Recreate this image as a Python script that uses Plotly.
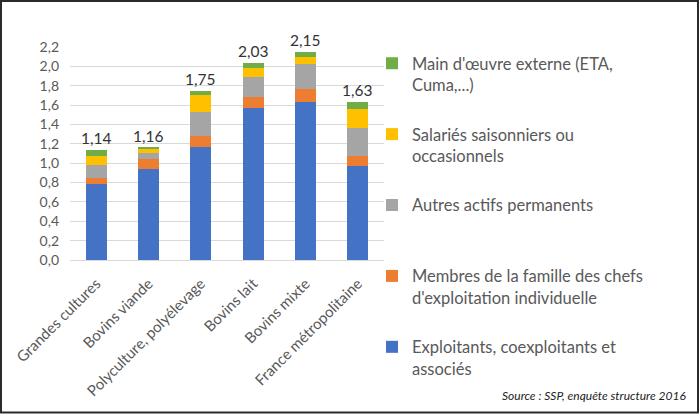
import plotly.graph_objects as go

categories = ["Grandes cultures", "Bovins viande", "Polyculture, polyélevage",
              "Bovins lait", "Bovins mixte", "France métropolitaine"]
exploitants = [0.78, 0.94, 1.17, 1.57, 1.63, 0.97]
membres = [0.07, 0.10, 0.11, 0.11, 0.14, 0.10]
autres = [0.13, 0.07, 0.25, 0.21, 0.25, 0.29]
salaries = [0.09, 0.04, 0.17, 0.09, 0.08, 0.20]
externe = [0.07, 0.01, 0.05, 0.05, 0.05, 0.07]
totals = [1.14, 1.16, 1.75, 2.03, 2.15, 1.63]
total_labels = ["1,14", "1,16", "1,75", "2,03", "2,15", "1,63"]

series = [
    ("Exploitants, coexploitants et<br>associés", exploitants, "#4472C4"),
    ("Membres de la famille des chefs<br>d'exploitation individuelle", membres, "#ED7D31"),
    ("Autres actifs permanents<br>&nbsp;", autres, "#A5A5A5"),
    ("Salariés saisonniers ou<br>occasionnels", salaries, "#FFC000"),
    ("Main d'œuvre externe (ETA,<br>Cuma,...)", externe, "#70AD47"),
]

FONT = "Lato"
fig = go.Figure()
n = len(series)
for i, (name, vals, col) in enumerate(series):
    fig.add_trace(go.Bar(x=categories, y=vals, name=name, marker_color=col,
                         marker_line_width=0, legendgroup=f"g{i}",
                         legendrank=n - i))

for c, t, lab in zip(categories, totals, total_labels):
    fig.add_annotation(x=c, y=t, text=lab, showarrow=False, yanchor="bottom",
                       yshift=1, font=dict(family=FONT, size=15.5, color="#333333"))

L, R, T, B = 70, 316, 47, 154
PW = 700 - L - R
PH = 414 - T - B

def px(xp):
    return (xp - L) / PW

def py(yp):
    return (414 - B - yp) / PH

fig.add_annotation(xref="paper", yref="paper", x=px(688), y=py(395),
                   xanchor="right", yanchor="middle", showarrow=False,
                   text="<i>Source : SSP, enquête structure 2016</i>",
                   font=dict(family=FONT, size=12, color="#222222"))

fig.add_shape(type="rect", xref="paper", yref="paper",
              x0=px(1), x1=px(698), y0=py(412.5), y1=py(1),
              line=dict(color="#2b2b2b", width=2), layer="above")

fig.update_layout(
    width=700, height=414,
    template="none",
    barmode="stack", bargap=0.6,
    separators=", ",
    margin=dict(l=L, r=R, t=T, b=B, pad=0, autoexpand=False),
    paper_bgcolor="white", plot_bgcolor="white",
    font=dict(family=FONT, size=14, color="#595959"),
    legend=dict(x=px(372), y=py(46), xanchor="left", yanchor="top",
                traceorder="grouped", tracegroupgap=25, maxheight=414,
                valign="top", font=dict(family=FONT, size=16.5, color="#595959"),
                bgcolor="rgba(0,0,0,0)"),
    showlegend=True,
)
fig.update_xaxes(showgrid=False, showline=False, ticks="", tickangle=-45,
                 automargin=False, ticklabelstandoff=11,
                 tickfont=dict(family=FONT, size=15, color="#595959"))
fig.update_yaxes(range=[0, 2.2], dtick=0.2, tickformat=".1f", showgrid=True,
                 automargin=False, ticklabelstandoff=10,
                 gridcolor="#D9D9D9", gridwidth=1, zeroline=True,
                 zerolinecolor="#D9D9D9", showline=False, ticks="",
                 tickfont=dict(family=FONT, size=14, color="#595959"))

fig.write_html("out.html", config={"displayModeBar": False},
               post_script="document.body.style.margin='0';")
